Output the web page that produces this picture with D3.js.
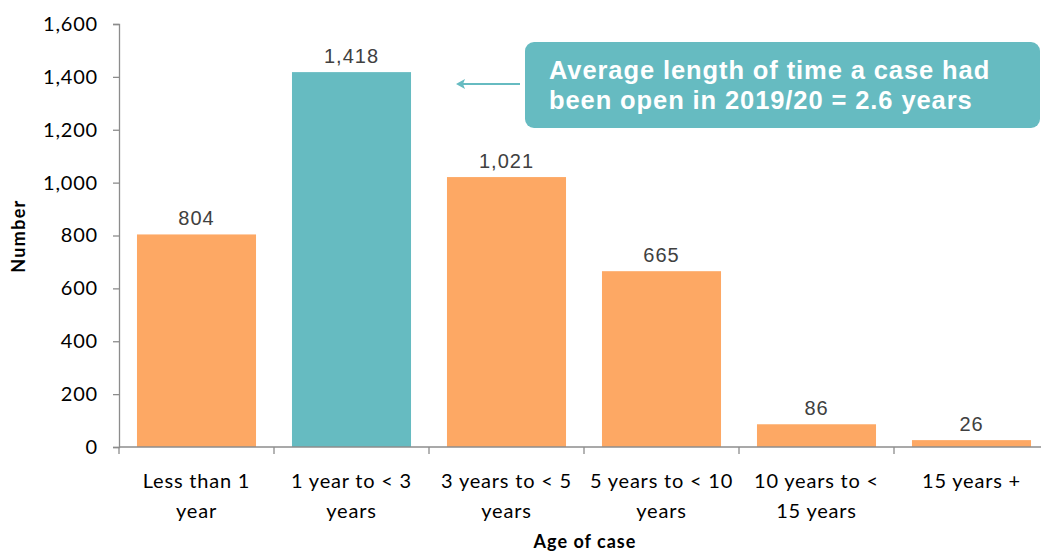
<!DOCTYPE html>
<html><head><meta charset="utf-8">
<script src="https://cdn.jsdelivr.net/npm/d3@7/dist/d3.min.js"></script>
<style>body{margin:0;background:#fff}svg{display:block}</style>
</head><body>
<svg id="c" width="1041" height="553"></svg>
<script>
const categories = ["Less than 1|year","1 year to < 3|years","3 years to < 5|years","5 years to < 10|years","10 years to <|15 years","15 years +"];
const values = [804, 1418, 1021, 665, 86, 26];
const highlight = [false, true, false, false, false, false];
const yTicks = [0,200,400,600,800,1000,1200,1400,1600];
const calloutLines = ["Average length of time a case had","been open in 2019/20 = 2.6 years"];

(function(){
const svg = d3.select("#c");
const pl = 119, pr = 1049, pt = 24, pb = 447;
const axisCol = "#8c8c8c";
const x = d3.scaleBand().domain(categories).range([pl, pr]).paddingInner(0.232).paddingOuter(0.116);
const y = d3.scaleLinear().domain([0,1600]).range([pb, pt]);
const tickFont = "Lato, 'Open Sans', sans-serif";

// bars
svg.selectAll("rect.bar").data(values).join("rect")
  .attr("x", (d,i)=>x(categories[i])).attr("width", x.bandwidth())
  .attr("y", d=>y(d)).attr("height", d=>pb-y(d))
  .attr("fill", (d,i)=>highlight[i] ? "#66bbc1" : "#fda864");

// value labels
svg.selectAll("text.val").data(values).join("text")
  .attr("x",(d,i)=>x(categories[i])+x.bandwidth()/2).attr("y", d=>y(d)-9)
  .attr("text-anchor","middle").attr("font-family","Arial, 'Liberation Sans', sans-serif")
  .attr("font-size",20).attr("letter-spacing",1).attr("fill","#404040").text(d=>d3.format(",")(d));

// y axis
const ya = svg.append("g").attr("transform",`translate(${pl},0)`)
  .call(d3.axisLeft(y).tickValues(yTicks).tickSize(6).tickPadding(15).tickFormat(d3.format(",")));
ya.select(".domain").attr("stroke",axisCol).attr("stroke-width",1.3);
ya.selectAll(".tick line").attr("stroke",axisCol).attr("stroke-width",1.3);
ya.selectAll("text").attr("font-family",tickFont).attr("font-size",20).attr("letter-spacing",0.8).attr("fill","#000");

// x axis
const xg = svg.append("g");
xg.append("line").attr("x1",pl).attr("x2",pr).attr("y1",pb).attr("y2",pb).attr("stroke",axisCol).attr("stroke-width",1.3);
const step = x.step();
d3.range(categories.length).forEach(i=>{
  const bx = pl + i*step;
  xg.append("line").attr("x1",bx).attr("x2",bx).attr("y1",pb).attr("y2",pb+7).attr("stroke",axisCol).attr("stroke-width",1.3);
});
svg.selectAll("text.xl").data(categories).join("text")
  .attr("text-anchor","middle").attr("font-family",tickFont).attr("font-size",20).attr("letter-spacing",0.8).attr("fill","#000")
  .each(function(d){
    const t = d3.select(this);
    const cx = x(d)+x.bandwidth()/2;
    d.split("|").forEach((s,j)=>t.append("tspan").attr("x",cx).attr("y",488+j*30).text(s));
  });

// axis titles
svg.append("text").attr("transform","translate(25,236) rotate(-90)").attr("text-anchor","middle")
  .attr("font-family",tickFont).attr("font-weight","bold").attr("font-size",18).attr("letter-spacing",1.3).text("Number");
svg.append("text").attr("x",585).attr("y",548).attr("text-anchor","middle")
  .attr("font-family",tickFont).attr("font-weight","bold").attr("font-size",18).attr("letter-spacing",1).text("Age of case");

// callout
svg.append("rect").attr("x",525).attr("y",42).attr("width",515).attr("height",86).attr("rx",9).attr("fill","#66bbc1");
svg.selectAll("text.co").data(calloutLines).join("text")
  .attr("x",549).attr("y",(d,i)=>79+i*30).attr("font-family","Arial, 'Liberation Sans', sans-serif")
  .attr("font-weight","bold").attr("font-size",25.5).attr("letter-spacing",0.9).attr("fill","#fff").text(d=>d);
// arrow
svg.append("line").attr("x1",520).attr("x2",462).attr("y1",84).attr("y2",84).attr("stroke","#66bbc1").attr("stroke-width",2);
svg.append("path").attr("d","M456,84 L465,79 L463,84 L465,89 Z").attr("fill","#66bbc1");
})();
</script>
</body></html>
